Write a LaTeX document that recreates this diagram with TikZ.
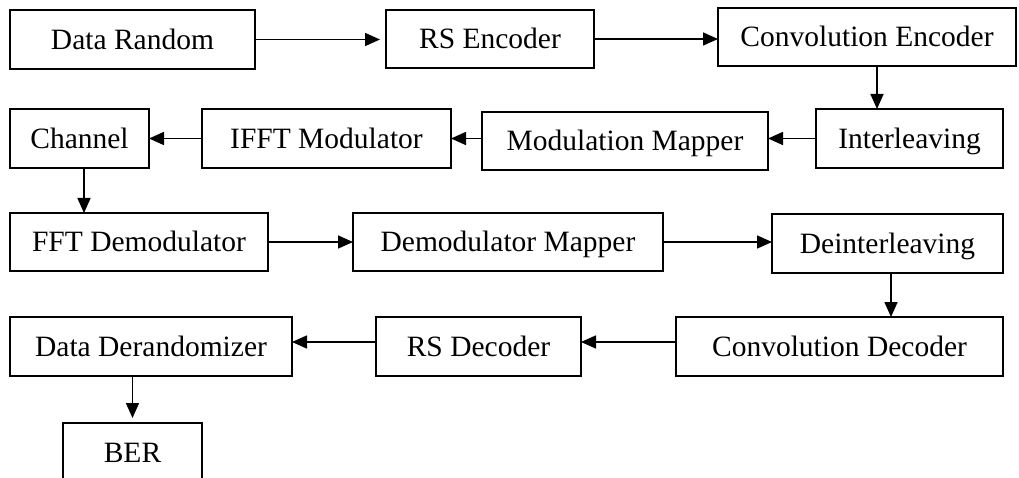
\documentclass[tikz,border=0pt]{standalone}
\usepackage{fontspec}
\setmainfont{Liberation Serif}
\usetikzlibrary{arrows.meta}

\begin{document}
\begin{tikzpicture}[x=1pt,y=-1pt,
  blk/.style={draw,line width=1.7pt,inner sep=0pt,outer sep=0pt,
    text height=19.5pt,text depth=0pt,
    font=\fontsize{29.5}{34}\selectfont},
  flow/.style={line width=1.6pt,-{Triangle[length=15pt,width=13pt]}}]
\useasboundingbox (0,0) rectangle (1019,478);
\fill[white] (0,0) rectangle (1019,478);

% transmitter chain
\node[blk,minimum width=245pt,minimum height=59pt] (dr)   at (132.5,39.5) {Data Random};
\node[blk,minimum width=208pt,minimum height=58pt] (rse)  at (490,39)     {RS Encoder};
\node[blk,minimum width=298pt,minimum height=58pt] (ce)   at (867,37)     {Convolution Encoder};
\node[blk,minimum width=187pt,minimum height=59pt] (il)   at (909.5,138.5){Interleaving};
\node[blk,minimum width=286pt,minimum height=58pt] (mm)   at (625,141)    {Modulation Mapper};
\node[blk,minimum width=249pt,minimum height=59pt] (ifft) at (326.5,138.5){IFFT Modulator};
\node[blk,minimum width=139pt,minimum height=59pt] (ch)   at (79.5,138.5) {Channel};

% receiver chain
\node[blk,minimum width=258pt,minimum height=58pt] (fft)  at (139,242)    {FFT Demodulator};
\node[blk,minimum width=310pt,minimum height=58pt] (dm)   at (508,242)    {Demodulator Mapper};
\node[blk,minimum width=231pt,minimum height=59pt] (dil)  at (887.5,243.5){Deinterleaving};
\node[blk,minimum width=327pt,minimum height=59pt] (cd)   at (839.5,346.5){Convolution Decoder};
\node[blk,minimum width=205pt,minimum height=59pt] (rsd)  at (478.5,346.5){RS Decoder};
\node[blk,minimum width=282pt,minimum height=59pt] (dd)   at (151,346.5)  {Data Derandomizer};
\node[blk,minimum width=139pt,minimum height=59pt] (ber)  at (132.5,452.5){BER};

% connector guide positions
\coordinate (xa) at (877,0);
\coordinate (xb) at (84,0);
\coordinate (xc) at (891,0);
\coordinate (yd) at (0,342);

% connectors
\draw[flow,shorten >=6pt] (dr.east) -- (dr.east -| rse.west);
\draw[flow] (rse.east) -- (rse.east -| ce.west);
\draw[flow] (ce.south -| xa) -- (il.north -| xa);
\draw[flow] (il.west) -- (il.west -| mm.east);
\draw[flow] (mm.west |- ifft.east) -- (ifft.east);
\draw[flow] (ifft.west) -- (ch.east);
\draw[flow] (ch.south -| xb) -- (fft.north -| xb);
\draw[flow] (fft.east) -- (dm.west);
\draw[flow] (dm.east) -- (dm.east -| dil.west);
\draw[flow] (dil.south -| xc) -- (cd.north -| xc);
\draw[flow] (cd.west |- yd) -- (rsd.east |- yd);
\draw[flow] (rsd.west |- yd) -- (dd.east |- yd);
\draw[flow,shorten >=5pt] (dd.south -| ber.north) -- (ber.north);
\end{tikzpicture}
\end{document}
